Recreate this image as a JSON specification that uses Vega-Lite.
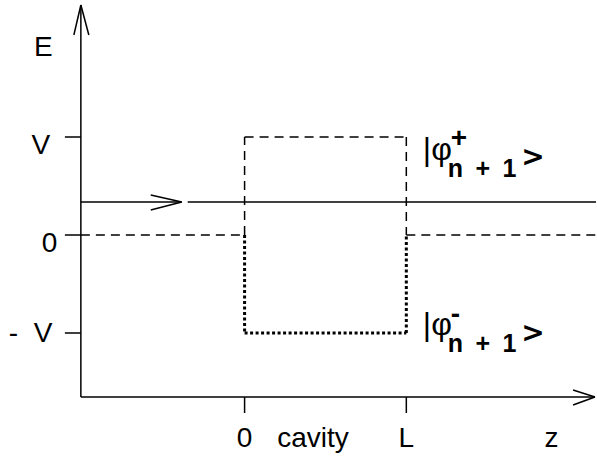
{
  "$schema": "https://vega.github.io/schema/vega-lite/v6.json",
  "width": 597,
  "height": 460,
  "autosize": {"type": "fit", "contains": "padding"},
  "padding": 0,
  "background": "white",
  "config": {"view": {"stroke": null}},
  "datasets": {
    "solid": [
      {"x": -1.0123, "y": 2.347, "x2": -1.0123, "y2": -1.653},
      {"x": -1.0556, "y": 2.0408, "x2": -1.0123, "y2": 2.347},
      {"x": -0.9630, "y": 2.0408, "x2": -1.0123, "y2": 2.347},
      {"x": -1.0123, "y": -1.653, "x2": 2.1667, "y2": -1.653},
      {"x": 2.0309, "y": -1.5816, "x2": 2.1667, "y2": -1.653},
      {"x": 2.0309, "y": -1.7347, "x2": 2.1667, "y2": -1.653},
      {"x": -1.1111, "y": 1, "x2": -1.0123, "y2": 1},
      {"x": -1.1111, "y": 0, "x2": -1.0123, "y2": 0},
      {"x": -1.1111, "y": -1, "x2": -1.0123, "y2": -1},
      {"x": 0, "y": -1.653, "x2": 0, "y2": -1.8163},
      {"x": 1, "y": -1.653, "x2": 1, "y2": -1.8163},
      {"x": -1.0123, "y": 0.3367, "x2": -0.3889, "y2": 0.3367},
      {"x": -0.3519, "y": 0.3367, "x2": 2.1728, "y2": 0.3367},
      {"x": -0.5802, "y": 0.4082, "x2": -0.3889, "y2": 0.3367},
      {"x": -0.5802, "y": 0.2551, "x2": -0.3889, "y2": 0.3367}
    ],
    "dashed": [
      {"x": -1.0123, "y": 0, "x2": 0, "y2": 0},
      {"x": 1, "y": 0, "x2": 2.1728, "y2": 0},
      {"x": 0, "y": 0, "x2": 0, "y2": 1},
      {"x": 0, "y": 1, "x2": 1, "y2": 1},
      {"x": 1, "y": 1, "x2": 1, "y2": 0}
    ],
    "dotted": [
      {"x": 0, "y": 0, "x2": 0, "y2": -1},
      {"x": 0, "y": -1, "x2": 1, "y2": -1},
      {"x": 1, "y": -1, "x2": 1, "y2": 0}
    ],
    "labels": [
      {"x": -1.2438, "y": 1.8265, "text": "E"},
      {"x": -1.2593, "y": 0.8265, "text": "V"},
      {"x": -1.2068, "y": -0.1735, "text": "0"},
      {"x": 0, "y": -2.1633, "text": "0"},
      {"x": 0.4228, "y": -2.1633, "text": "cavity"},
      {"x": 1, "y": -2.1633, "text": "L"},
      {"x": 1.898, "y": -2.1633, "text": "z"}
    ],
    "labelsRight": [
      {"x": -1.1883, "y": -1.092, "text": "- \u00a0V"}
    ],
    "ket": [
      {"x": 1.102, "y": 0.7653, "text": "|φ"},
      {"x": 1.102, "y": -1.0255, "text": "|φ"}
    ],
    "sup": [
      {"x": 1.275, "y": 0.893, "text": "+"},
      {"x": 1.275, "y": -0.898, "text": "-"}
    ],
    "sub": [
      {"x": 1.256, "y": 0.5918, "text": "n\u2002+\u20021"},
      {"x": 1.256, "y": -1.199, "text": "n\u2002+\u20021"}
    ],
    "close": [
      {"x": 1.7099, "y": 0.699, "text": ">"},
      {"x": 1.7099, "y": -1.092, "text": ">"}
    ]
  },
  "encoding": {
    "x": {"field": "x", "type": "quantitative", "axis": null, "scale": {"domain": [-1.5123, 2.1728], "nice": false, "zero": false}},
    "y": {"field": "y", "type": "quantitative", "axis": null, "scale": {"domain": [-2.296, 2.398], "nice": false, "zero": false}}
  },
  "layer": [
    {
      "data": {"name": "solid"},
      "mark": {"type": "rule", "color": "black", "strokeWidth": 1.5},
      "encoding": {"x2": {"field": "x2"}, "y2": {"field": "y2"}}
    },
    {
      "data": {"name": "dashed"},
      "mark": {"type": "rule", "color": "black", "strokeWidth": 1.5, "strokeDash": [9, 6]},
      "encoding": {"x2": {"field": "x2"}, "y2": {"field": "y2"}}
    },
    {
      "data": {"name": "dotted"},
      "mark": {"type": "rule", "color": "black", "strokeWidth": 3, "strokeDash": [3, 2.5]},
      "encoding": {"x2": {"field": "x2"}, "y2": {"field": "y2"}}
    },
    {
      "data": {"name": "labels"},
      "mark": {"type": "text", "font": "Liberation Sans", "fontSize": 28, "align": "center", "baseline": "alphabetic", "color": "black"},
      "encoding": {"text": {"field": "text"}}
    },
    {
      "data": {"name": "labelsRight"},
      "mark": {"type": "text", "font": "Liberation Sans", "fontSize": 28, "align": "right", "baseline": "alphabetic", "color": "black"},
      "encoding": {"text": {"field": "text"}}
    },
    {
      "data": {"name": "ket"},
      "mark": {"type": "text", "font": "Liberation Sans", "fontSize": 32, "align": "left", "baseline": "alphabetic", "color": "black"},
      "encoding": {"text": {"field": "text"}}
    },
    {
      "data": {"name": "sup"},
      "mark": {"type": "text", "font": "Liberation Sans", "fontSize": 28, "fontWeight": "bold", "align": "left", "baseline": "alphabetic", "color": "black"},
      "encoding": {"text": {"field": "text"}}
    },
    {
      "data": {"name": "sub"},
      "mark": {"type": "text", "font": "Liberation Sans", "fontSize": 25, "fontWeight": "bold", "align": "left", "baseline": "alphabetic", "color": "black"},
      "encoding": {"text": {"field": "text"}}
    },
    {
      "data": {"name": "close"},
      "mark": {"type": "text", "font": "DejaVu Sans", "fontSize": 28, "fontWeight": "bold", "align": "left", "baseline": "alphabetic", "color": "black"},
      "encoding": {"text": {"field": "text"}}
    }
  ]
}
